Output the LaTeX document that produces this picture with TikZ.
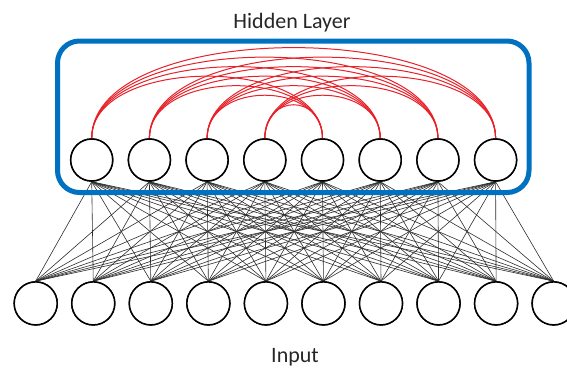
\documentclass[tikz,border=0pt]{standalone}
\usepackage{fontspec}
\setmainfont{Carlito}
\definecolor{boxblue}{RGB}{0,112,192}
\definecolor{arcred}{RGB}{232,32,40}
\definecolor{linegray}{RGB}{45,45,45}
\tikzset{
  neuron/.style={circle, draw=black, line width=1.5pt, fill=white, inner sep=0pt},
  hid/.style={neuron, minimum size=42pt},
  inp/.style={neuron, minimum size=43pt},
  wire/.style={draw=linegray, line width=0.6pt},
  redarc/.style={draw=arcred, line width=1pt},
  layerbox/.style={draw=boxblue, line width=5pt, rounded corners=22pt},
  lbl/.style={font=\fontsize{22}{26}\selectfont, text=black!85, anchor=base, inner sep=0pt}
}
\begin{document}
\begin{tikzpicture}[x=1pt,y=-1pt]
\useasboundingbox (0,0) rectangle (567,368);
% nodes
\foreach \i in {1,...,8} {
  \node[hid] (h\i) at ({91.7+57.7*(\i-1)},160) {};
}
\foreach \j in {1,...,10} {
  \node[inp] (i\j) at ({35.7+57.55*(\j-1)},303.4) {};
}
% connections hidden-input
\foreach \i in {1,...,8} {
  \foreach \j in {1,...,10} {
    \draw[wire] (h\i.south) -- (i\j.north);
  }
}
% recurrent arcs
\foreach \a in {1,...,4} {
  \foreach \b in {5,...,8} {
    \pgfmathsetmacro\dd{57.7*(\b-\a)}
    \pgfmathsetmacro\cc{(24+0.165*\dd)/0.75}
    \draw[redarc] (h\a.north) .. controls +(0,-\cc) and +(0,-\cc) .. (h\b.north);
  }
}
% redraw circles on top
\foreach \i in {1,...,8} {
  \node[hid] at (h\i) {};
}
\foreach \j in {1,...,10} {
  \node[inp] at (i\j) {};
}
% hidden layer box
\draw[layerbox] (57.5,41) rectangle (529,192.5);
% labels
\node[lbl] (hl) at (292,28) {Hidden Layer};
\node[lbl] (il) at (295,362.5) {Input};
\end{tikzpicture}
\end{document}
